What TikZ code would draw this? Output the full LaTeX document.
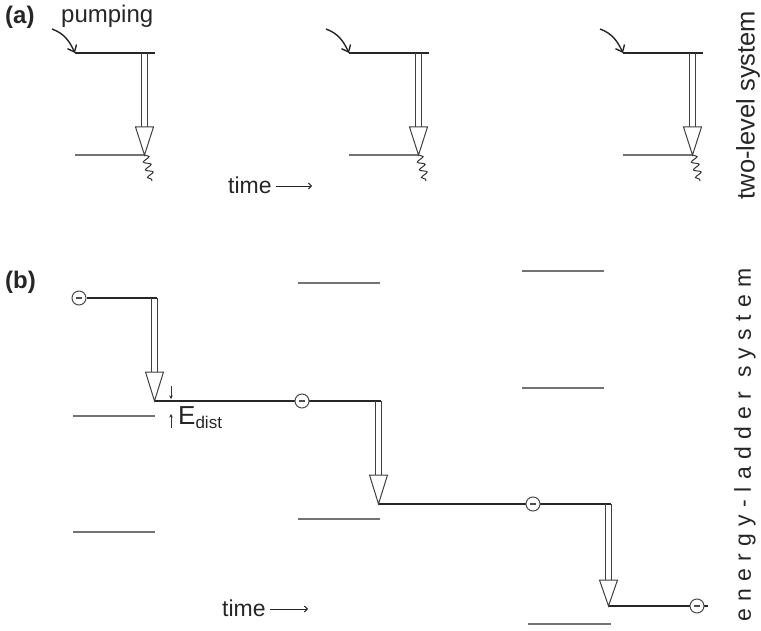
\documentclass[tikz,border=0pt]{standalone}
\usepackage{fontspec}
\setmainfont{Liberation Sans}
\usetikzlibrary{arrows.meta,decorations.pathmorphing}
\newcommand\myOpenArrow[4]{% x, ytop, yhead, ytip
  \draw[shaftline] (#1-3,#2) -- (#1-3,#3);
  \draw[shaftline] (#1+3,#2) -- (#1+3,#3);
  \draw[headtri] (#1-9,#3) -- (#1+9,#3) -- (#1,#4) -- cycle;}
\newcommand\myPanelA[1]{% x shift
  \begin{scope}[xshift=#1]
    \coordinate (p0) at (52,29);
    \coordinate (up-l) at (75,53);
    \coordinate (up-r) at (155,53);
    \coordinate (lo-l) at (75,155);
    \coordinate (lo-r) at (145,155);
    \coordinate (wv) at (152,181);
    \draw[pump] (p0) to[out=-20,in=115] (up-l);
    \draw[level] (up-l) -- (up-r);
    \draw[thinlvl] (lo-l) -- (lo-r);
    \myOpenArrow{144.5}{53}{127}{155}
    \draw[wavy] (lo-r) -- (wv);
  \end{scope}}
\begin{document}
\begin{tikzpicture}[x=1pt,y=-1pt,
  level/.style={line width=2.2pt, draw=black!85},
  thinlvl/.style={line width=1.5pt, draw=black!55},
  shaftline/.style={draw=black!75, line width=1pt},
  headtri/.style={draw=black!75, line width=1pt, fill=white, line join=miter},
  pump/.style={line width=1.4pt, draw=black!85, -{Straight Barb[length=6pt,width=10pt]}},
  wavy/.style={line width=1pt, draw=black!80, decorate, decoration={snake, amplitude=3.5pt, segment length=8pt}},
  electron/.style={circle, draw=black!70, line width=1pt, fill=white, inner sep=0pt, minimum size=14pt,
    path picture={\draw[line width=1.1pt] ([xshift=-3.2pt]path picture bounding box.center) -- ([xshift=3.2pt]path picture bounding box.center);}},
  lbl/.style={font=\fontsize{24}{26}\selectfont, text=black!85, inner sep=0pt},
  timearrow/.style={line width=0.9pt, draw=black!85, -{Straight Barb[length=3pt,width=6pt]}},
  small/.style={line width=0.7pt, draw=black!80, -{Stealth[length=3.5pt,width=3.5pt]}},
]
\useasboundingbox (0,0) rectangle (761,631);

% ---------- (a) ----------
\node[lbl, font=\fontsize{24}{26}\selectfont\bfseries, anchor=west] (la) at (5,17) {(a)};
\node[lbl, anchor=west] (pumping) at (61,16) {pumping};
\myPanelA{0}
\myPanelA{274}
\myPanelA{548}
\node[lbl, font=\fontsize{23}{25}\selectfont, anchor=west] (timea) at (228,185) {time};
\coordinate (ta1) at (276,186);
\coordinate (ta2) at (312,186);
\draw[timearrow] (ta1) -- (ta2);
\node[lbl, font=\fontsize{25.5}{27}\selectfont, rotate=90] (twolevel) at (748,105) {two-level system};

% ---------- (b) ----------
\node[lbl, font=\fontsize{24}{26}\selectfont\bfseries, anchor=west] (lb) at (5,282) {(b)};

% thin levels
\draw[thinlvl] (73,416) -- (155,416);
\draw[thinlvl] (73,532) -- (155,532);
\draw[thinlvl] (298,283) -- (380,283);
\draw[thinlvl] (298,519) -- (380,519);
\draw[thinlvl] (522,271) -- (604,271);
\draw[thinlvl] (522,388) -- (604,388);
\draw[thinlvl] (528,624) -- (611,624);

% occupied path
\coordinate (l1r) at (157,298);
\coordinate (l2l) at (155,401);
\coordinate (l2r) at (381,401);
\coordinate (l3l) at (378,504);
\coordinate (l3r) at (611,504);
\coordinate (l4l) at (608,606);
\coordinate (l4r) at (708,606);
\node[electron] (e1) at (79,298) {};
\draw[level] (e1.east) -- (l1r);
\draw[level] (l2l) -- (l2r);
\draw[level] (l3l) -- (l3r);
\draw[level] (l4l) -- (l4r);
\node[electron] (e2) at (302,401) {};
\node[electron] (e3) at (533,504) {};
\node[electron] (e4) at (697,606) {};

\myOpenArrow{154.5}{298}{372}{401}
\myOpenArrow{378.5}{401}{475}{504}
\myOpenArrow{608.5}{504}{580}{606}

% E_dist
\coordinate (d1) at (171,386);
\coordinate (d2) at (171,399);
\coordinate (u1) at (171,428);
\coordinate (u2) at (171,414);
\draw[small] (d1) -- (d2);
\draw[small] (u1) -- (u2);
\node[lbl, anchor=base west, font=\fontsize{26}{28}\selectfont] (edist) at (178,424) {E\raisebox{-0.3ex}{\fontsize{17}{18}\selectfont dist}};

\node[lbl, font=\fontsize{23}{25}\selectfont, anchor=west] (timeb) at (222,608) {time};
\coordinate (tb1) at (270,609);
\coordinate (tb2) at (308,609);
\draw[timearrow] (tb1) -- (tb2);

\node[lbl, font=\fontsize{23}{25}\selectfont, rotate=90] (ladder) at (745,445) {\addfontfeature{LetterSpace=32}energy-ladder system};
\end{tikzpicture}
\end{document}
